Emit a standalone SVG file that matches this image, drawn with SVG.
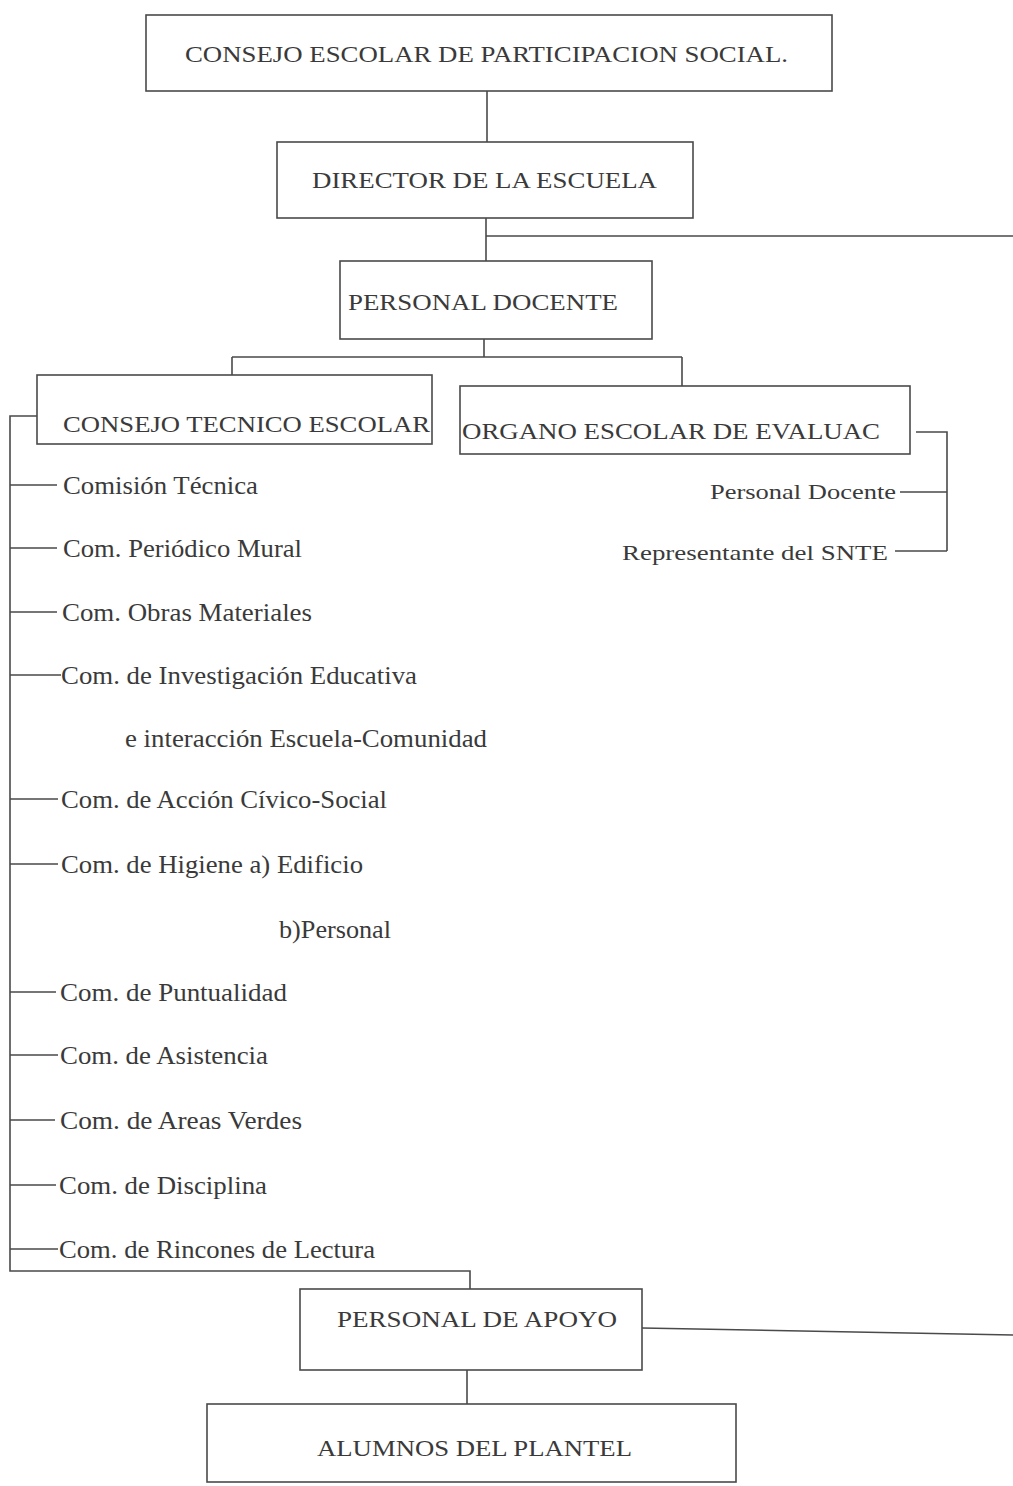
<svg xmlns="http://www.w3.org/2000/svg" width="1013" height="1486" viewBox="0 0 1013 1486">
<style>
.box{fill:#fff;stroke:#4a4a4a;stroke-width:1.6}
.ln{fill:none;stroke:#4a4a4a;stroke-width:1.6}
.t{font-family:"Liberation Serif","Times New Roman",serif;font-size:23px;fill:#3a3a3a}
.i{font-family:"Liberation Serif","Times New Roman",serif;font-size:25px;fill:#3a3a3a}
.s{font-family:"Liberation Serif","Times New Roman",serif;font-size:22px;fill:#3a3a3a}
</style>
<rect width="1013" height="1486" fill="#fff"/>
<g id="connectors">
<path class="ln" d="M487 91 V142"/>
<path class="ln" d="M486 218 V261 M486 236 H1013"/>
<path class="ln" d="M484 339 V357 M232 357 H682 M232 357 V375 M682 357 V386"/>
<path class="ln" d="M916 432 H947 V551 M900 492 H947 M895 551 H947"/>
<path class="ln" d="M37 416 H10 V1271 H470 V1290"/>
<path class="ln" d="M10 485 H57 M10 548 H57 M10 612 H57 M10 675 H61 M10 799 H58 M10 864 H58 M10 992 H56 M10 1055 H58 M10 1120 H55 M10 1185 H56 M10 1249 H58"/>
<path class="ln" d="M642 1328 L1013 1335"/>
<path class="ln" d="M467 1370 V1404"/>
</g>
<g id="consejo-escolar">
<rect class="box" x="146" y="15" width="686" height="76"/>
<text class="t" x="185" y="62" textLength="603" lengthAdjust="spacingAndGlyphs">CONSEJO ESCOLAR DE PARTICIPACION SOCIAL.</text>
</g>
<g id="director">
<rect class="box" x="277" y="142" width="416" height="76"/>
<text class="t" x="312" y="188" textLength="345" lengthAdjust="spacingAndGlyphs">DIRECTOR DE LA ESCUELA</text>
</g>
<g id="personal-docente">
<rect class="box" x="340" y="261" width="312" height="78"/>
<text class="t" x="348" y="310" textLength="270" lengthAdjust="spacingAndGlyphs">PERSONAL DOCENTE</text>
</g>
<g id="consejo-tecnico">
<rect class="box" x="37" y="375" width="395" height="69"/>
<text class="t" x="63" y="432" textLength="367" lengthAdjust="spacingAndGlyphs">CONSEJO TECNICO ESCOLAR</text>
</g>
<g id="organo-escolar">
<rect class="box" x="460" y="386" width="450" height="68"/>
<text class="t" x="462" y="439" textLength="418" lengthAdjust="spacingAndGlyphs">ORGANO ESCOLAR DE EVALUAC</text>
</g>
<g id="organo-items">
<text class="s" x="710" y="499" textLength="186" lengthAdjust="spacingAndGlyphs">Personal Docente</text>
<text class="s" x="622" y="560" textLength="266" lengthAdjust="spacingAndGlyphs">Representante del SNTE</text>
</g>
<g id="comisiones">
<text class="i" x="63" y="494" textLength="195" lengthAdjust="spacingAndGlyphs">Comisión Técnica</text>
<text class="i" x="63" y="557" textLength="239" lengthAdjust="spacingAndGlyphs">Com. Periódico Mural</text>
<text class="i" x="62" y="621" textLength="250" lengthAdjust="spacingAndGlyphs">Com. Obras Materiales</text>
<text class="i" x="61" y="684" textLength="356" lengthAdjust="spacingAndGlyphs">Com. de Investigación Educativa</text>
<text class="i" x="125" y="747" textLength="362" lengthAdjust="spacingAndGlyphs">e interacción Escuela-Comunidad</text>
<text class="i" x="61" y="808" textLength="326" lengthAdjust="spacingAndGlyphs">Com. de Acción Cívico-Social</text>
<text class="i" x="61" y="873" textLength="302" lengthAdjust="spacingAndGlyphs">Com. de Higiene a) Edificio</text>
<text class="i" x="279" y="938" textLength="112" lengthAdjust="spacingAndGlyphs">b)Personal</text>
<text class="i" x="60" y="1001" textLength="227" lengthAdjust="spacingAndGlyphs">Com. de Puntualidad</text>
<text class="i" x="60" y="1064" textLength="208" lengthAdjust="spacingAndGlyphs">Com. de Asistencia</text>
<text class="i" x="60" y="1129" textLength="242" lengthAdjust="spacingAndGlyphs">Com. de Areas Verdes</text>
<text class="i" x="59" y="1194" textLength="208" lengthAdjust="spacingAndGlyphs">Com. de Disciplina</text>
<text class="i" x="59" y="1258" textLength="316" lengthAdjust="spacingAndGlyphs">Com. de Rincones de Lectura</text>
</g>
<g id="personal-apoyo">
<rect class="box" x="300" y="1289" width="342" height="81"/>
<text class="t" x="337" y="1327" textLength="280" lengthAdjust="spacingAndGlyphs">PERSONAL DE APOYO</text>
</g>
<g id="alumnos">
<rect class="box" x="207" y="1404" width="529" height="78"/>
<text class="t" x="317" y="1456" textLength="315" lengthAdjust="spacingAndGlyphs">ALUMNOS DEL PLANTEL</text>
</g>
</svg>
